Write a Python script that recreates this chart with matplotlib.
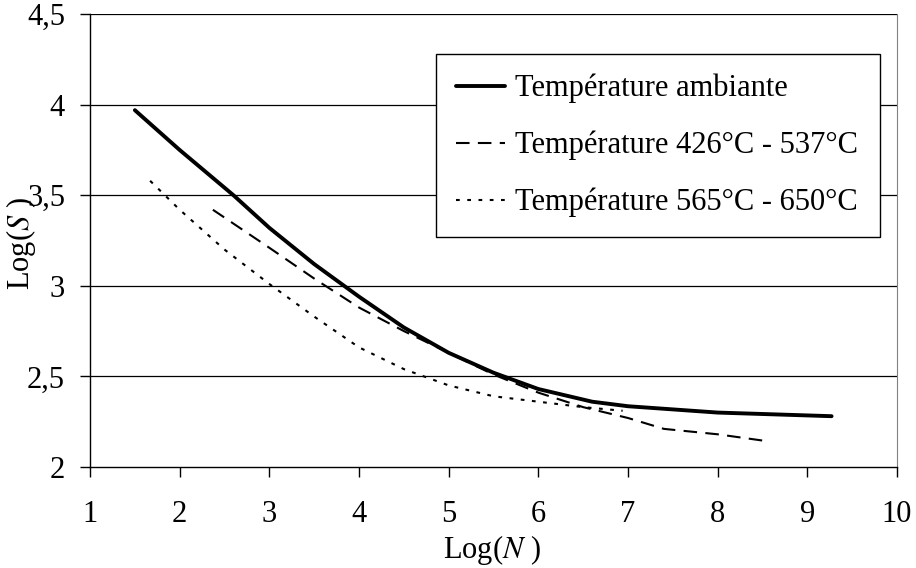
import matplotlib
matplotlib.use("Agg")
import matplotlib.pyplot as plt

# Log(N) / Log(S) values
n_ambiante = [1.5, 2.0, 2.6, 3.0, 3.5, 4.0, 4.5, 5.0, 5.5, 6.0, 6.6, 7.0, 8.0, 9.27]
s_ambiante = [3.97, 3.75, 3.50, 3.32, 3.12, 2.94, 2.77, 2.63, 2.52, 2.43, 2.36, 2.335, 2.30, 2.28]

n_426 = [2.37, 3.0, 3.5, 4.0, 4.5, 5.0, 5.5, 6.0, 6.5, 7.0, 7.4, 8.0, 8.58]
s_426 = [3.42, 3.21, 3.04, 2.88, 2.75, 2.63, 2.51, 2.41, 2.33, 2.27, 2.21, 2.18, 2.14]

n_565 = [1.67, 2.0, 2.5, 3.0, 3.5, 4.0, 4.5, 5.0, 5.5, 6.0, 6.5, 6.94]
s_565 = [3.58, 3.42, 3.20, 3.01, 2.83, 2.66, 2.54, 2.45, 2.39, 2.36, 2.33, 2.31]

labels = ["Température ambiante",
          "Température 426°C - 537°C",
          "Température 565°C - 650°C"]

x_ticks = list(range(1, 11))
y_ticks = [2, 2.5, 3, 3.5, 4, 4.5]
y_tick_labels = ["2", "2,5", "3", "3,5", "4", "4,5"]

plt.rcParams['font.family'] = ['Liberation Serif', 'DejaVu Serif']
plt.rcParams['mathtext.fontset'] = 'stix'
plt.rcParams['font.size'] = 22

fig = plt.figure(figsize=(9.16, 5.68), dpi=100)
ax = fig.add_axes([0.0983, 0.178, 0.881, 0.797])

ax.plot(n_ambiante, s_ambiante, color='black', lw=2.8, solid_capstyle='round',
        label=labels[0], zorder=4)
ax.plot(n_426, s_426, color='black', lw=1.5, dashes=(6.5, 4), label=labels[1], zorder=3)
ax.plot(n_565, s_565, color='black', lw=1.5, dashes=(1.8, 3.6), label=labels[2], zorder=3)

ax.set_xlim(1, 10)
ax.set_ylim(2, 4.5)
ax.set_xticks(x_ticks)
ax.set_yticks(y_ticks)
ax.set_yticklabels(y_tick_labels)
ax.tick_params(axis='x', direction='out', length=7, width=1, pad=17)
ax.tick_params(axis='y', direction='out', length=7, width=1, pad=11)

# horizontal grid, the top one closes the frame
for y in y_ticks[1:]:
    ax.axhline(y, color='black', lw=0.9, zorder=1)

ax.spines['top'].set_visible(False)
ax.spines['right'].set_color('#808080')
ax.spines['left'].set_linewidth(1.0)
ax.spines['bottom'].set_linewidth(1.0)

ax.set_xlabel('Log($\\mathit{N}$ )')
ax.set_ylabel('Log($\\mathit{S}$ )')
ax.yaxis.set_label_coords(-0.064, 0.494)
ax.xaxis.set_label_coords(0.498, -0.147)

leg = ax.legend(loc='upper left', bbox_to_anchor=(0.429, 0.912, 0.55, 0.0),
                mode='expand', frameon=True, fancybox=False, handlelength=1.6,
                handletextpad=0.33, labelspacing=0.9, borderpad=0.65,
                borderaxespad=0.0)
leg.get_frame().set_edgecolor('black')
leg.get_frame().set_linewidth(1.0)
leg.get_frame().set_alpha(1)

fig.savefig("out.png", dpi=100)
